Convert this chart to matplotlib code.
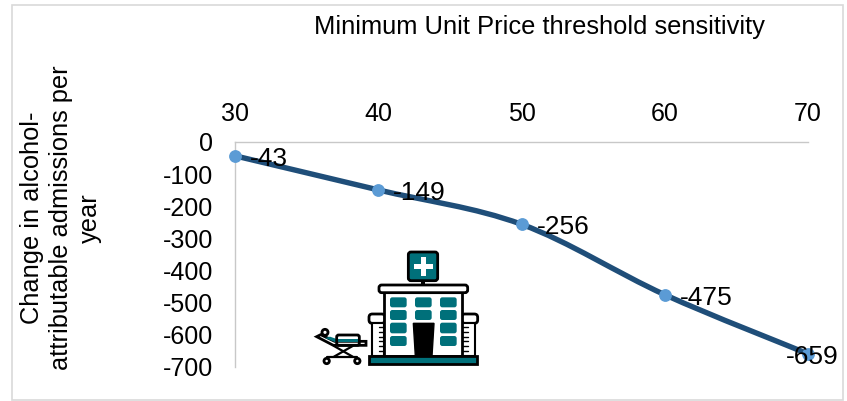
import matplotlib
matplotlib.use("Agg")
import matplotlib.pyplot as plt
import numpy as np
from matplotlib.path import Path
from matplotlib.patches import PathPatch, Rectangle, FancyBboxPatch, Circle, Polygon

thresholds = [30, 40, 50, 60, 70]
admissions = [-43, -149, -256, -475, -659]
y_ticks = [0, -100, -200, -300, -400, -500, -600, -700]
title = "Minimum Unit Price threshold sensitivity"
y_title = "Change in alcohol-\nattributable admissions per\nyear"

W, H = 847, 401
LINE = "#1f4e79"
MARK = "#5b9bd5"
GRID = "#c8c8c8"
TEAL = "#00707a"
plt.rcParams["font.family"] = ["Liberation Sans", "DejaVu Sans"]

fig = plt.figure(figsize=(W / 100, H / 100), dpi=100)
fig.add_artist(Rectangle((12 / W, 1 - 400 / H), 831 / W, 395 / H, transform=fig.transFigure,
                         fill=False, ec="#d9d9d9", lw=1.2))

ax = fig.add_axes([235 / W, 1 - 367 / H, (808 - 235) / W, (367 - 142) / H])
ax.set_xlim(30, 70)
ax.set_ylim(-700, 0)
for s in ("right", "bottom"):
    ax.spines[s].set_visible(False)
for s in ("left", "top"):
    ax.spines[s].set_color(GRID)
    ax.spines[s].set_linewidth(1.0)
ax.xaxis.tick_top()
ax.set_xticks(thresholds)
ax.set_yticks(y_ticks)
ax.tick_params(axis="both", length=0, labelsize=18, labelcolor="black")
ax.tick_params(axis="x", pad=11.7)
ax.tick_params(axis="y", pad=15.8)
ax.set_yticklabels([str(v) for v in y_ticks])

# Smooth connector through the data (Catmull-Rom style Bezier, as in spreadsheet charts)
x = np.array(thresholds, float)
y = np.array(admissions, float)
verts = [(x[0], y[0])]
codes = [Path.MOVETO]
for i in range(len(x) - 1):
    p0 = i - 1 if i > 0 else i
    p3 = i + 2 if i + 2 < len(x) else i + 1
    c1 = (x[i] + (x[i + 1] - x[p0]) / 6, y[i] + (y[i + 1] - y[p0]) / 6)
    c2 = (x[i + 1] - (x[p3] - x[i]) / 6, y[i + 1] - (y[p3] - y[i]) / 6)
    verts += [c1, c2, (x[i + 1], y[i + 1])]
    codes += [Path.CURVE4] * 3
ax.add_patch(PathPatch(Path(verts, codes), fill=False, ec=LINE, lw=3.9, capstyle="round",
                       clip_on=False, zorder=3))
ax.plot(thresholds, admissions, ls="none", marker="o", ms=8.2, mfc=MARK, mec=MARK, clip_on=False, zorder=4)

label_dx = [15, 15, 15, 15, -22]
for xv, yv, dx in zip(thresholds, admissions, label_dx):
    ax.annotate(str(yv), (xv, yv), xytext=(dx * 0.72, -3 * 0.72), textcoords="offset points",
                fontsize=19, va="center", ha="left", color="black", zorder=5)

fig.text(539.5 / W, 1 - 27 / H, title, fontsize=18.4, ha="center", va="center", color="black")
fig.text(61 / W, 1 - 218 / H, y_title, fontsize=18.3, rotation=90, ha="center", va="center",
         multialignment="center", linespacing=1.26, color="black")

# Hospital pictogram (decorative), drawn in the zoomed-crop coordinate frame
ic = fig.add_axes([300 / W, 1 - 370 / H, 200 / W, 130 / H], zorder=6)
ic.set_xlim(0, 600)
ic.set_ylim(390, 0)
ic.axis("off")
ic.patch.set_alpha(0)
LW = 1.5
def rbox(x0, y0, x1, y1, fc, ec="black", r=6, lw=LW, z=2):
    ic.add_patch(FancyBboxPatch((x0 + r, y0 + r), x1 - x0 - 2 * r, y1 - y0 - 2 * r,
                                boxstyle=f"round,pad={r},rounding_size={r}", fc=fc, ec=ec, lw=lw, zorder=z,
                                mutation_aspect=1))
def seg(xs, ys, lw=LW, z=3):
    ic.plot(xs, ys, color="black", lw=lw, solid_capstyle="round", zorder=z)

rbox(325, 36, 413, 122, TEAL, r=8, lw=2)
ic.add_patch(Rectangle((342, 72), 56, 15, fc="white", ec="none", zorder=3))
ic.add_patch(Rectangle((362, 52), 15, 56, fc="white", ec="none", zorder=3))
ic.add_patch(Rectangle((363, 122), 12, 14, fc="black", ec="none", zorder=2))
rbox(207, 222, 255, 250, "white", r=10, lw=2)
rbox(485, 222, 533, 250, "white", r=10, lw=2)
ic.add_patch(Rectangle((215, 248), 38, 100, fc="white", ec="black", lw=LW, zorder=2))
ic.add_patch(Rectangle((487, 248), 38, 100, fc="white", ec="black", lw=LW, zorder=2))
for yy in range(262, 345, 14):
    seg([237, 253], [yy, yy], lw=1)
    seg([487, 503], [yy, yy], lw=1)
ic.add_patch(Rectangle((253, 155), 234, 193, fc="white", ec="black", lw=2, zorder=3))
rbox(237, 135, 503, 158, "white", r=8, lw=2, z=4)
for cx in (270, 345, 420):
    for (y0, y1) in ((172, 202), (210, 240), (248, 280), (288, 318)):
        if cx == 345 and y0 >= 248:
            continue
        rbox(cx, y0, cx + 50, y1, TEAL, ec="none", r=7, lw=0, z=4)
ic.add_patch(Polygon([(340, 250), (402, 250), (396, 348), (346, 348)], fc="black", ec="black", zorder=5))
ic.add_patch(Rectangle((207, 348), 323, 24, fc=TEAL, ec="black", lw=2, zorder=5))
# stretcher
ic.add_patch(Polygon([(50, 290), (62, 284), (104, 304), (198, 304), (198, 316), (100, 316)],
                     fc="white", ec="black", lw=2, zorder=2))
ic.add_patch(Polygon([(75, 294), (104, 306), (180, 306), (180, 297), (110, 297), (90, 290)],
                     fc=TEAL, ec="none", zorder=3))
rbox(110, 285, 178, 316, "none", r=6, lw=2, z=4)
ic.add_patch(Circle((75, 277), 9, fc="white", ec="black", lw=2, zorder=4))
seg([102, 158], [318, 350], lw=1.6)
seg([158, 102], [318, 350], lw=1.6)
seg([80, 172], [350, 350], lw=1.6)
for cx in (80, 172):
    ic.add_patch(Circle((cx, 363), 8, fc="white", ec="black", lw=2, zorder=3))

fig.savefig("out.png", dpi=100)
